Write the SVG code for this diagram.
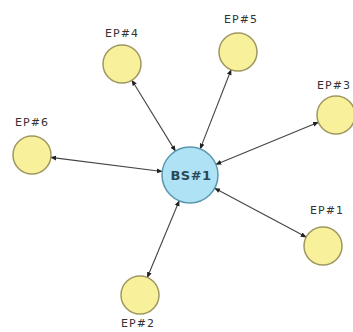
<svg xmlns="http://www.w3.org/2000/svg" width="353" height="332" viewBox="0 0 353 332">
  <style>
    .ep { fill: #f8f09a; stroke: #9e9860; stroke-width: 1.5; }
    .bs { fill: #aee2f4; stroke: #5a98b0; stroke-width: 1.5; }
    .lbl { font-family: "DejaVu Sans", "Liberation Sans", sans-serif; font-size: 11px; fill: #333333; text-anchor: middle; letter-spacing: 1px; }
    .bslbl { font-family: "DejaVu Sans", "Liberation Sans", sans-serif; font-size: 13px; font-weight: bold; fill: #2a4858; text-anchor: middle; letter-spacing: 0.5px; }
    .edge { stroke: #444; stroke-width: 1.1; fill: none; marker-start: url(#arr); marker-end: url(#arr); }
  </style>
  <defs>
    <marker id="arr" viewBox="0 0 10 10" refX="9" refY="5" markerWidth="6" markerHeight="6" markerUnits="userSpaceOnUse" orient="auto-start-reverse">
      <path d="M0,1 L10,5 L0,9 z" fill="#222"/>
    </marker>
  </defs>
  <rect width="353" height="332" fill="#ffffff"/>
  <g id="connectors">
    <path class="edge" d="M175.4,151.1 L131.9,80.2"/>
    <path class="edge" d="M200.2,148.9 L231.1,69.7"/>
    <path class="edge" d="M215.9,164.4 L318.4,122.2"/>
    <path class="edge" d="M162.2,171.5 L50.8,157.4"/>
    <path class="edge" d="M214.7,188.2 L306.2,237.1"/>
    <path class="edge" d="M179.2,200.8 L147.3,277.5"/>
  </g>
  <g id="BS1">
    <circle class="bs" cx="190" cy="175" r="28"/>
    <text class="bslbl" x="191" y="180">BS#1</text>
  </g>
  <g id="EP4">
    <circle class="ep" cx="122" cy="64" r="19"/>
    <text class="lbl" x="122" y="37">EP#4</text>
  </g>
  <g id="EP5">
    <circle class="ep" cx="238" cy="52" r="19"/>
    <text class="lbl" x="241" y="23">EP#5</text>
  </g>
  <g id="EP3">
    <circle class="ep" cx="336" cy="115" r="19"/>
    <text class="lbl" x="334" y="89">EP#3</text>
  </g>
  <g id="EP6">
    <circle class="ep" cx="32" cy="155" r="19"/>
    <text class="lbl" x="32" y="126">EP#6</text>
  </g>
  <g id="EP1">
    <circle class="ep" cx="323" cy="246" r="19"/>
    <text class="lbl" x="327" y="214">EP#1</text>
  </g>
  <g id="EP2">
    <circle class="ep" cx="140" cy="295" r="19"/>
    <text class="lbl" x="138" y="327">EP#2</text>
  </g>
</svg>
